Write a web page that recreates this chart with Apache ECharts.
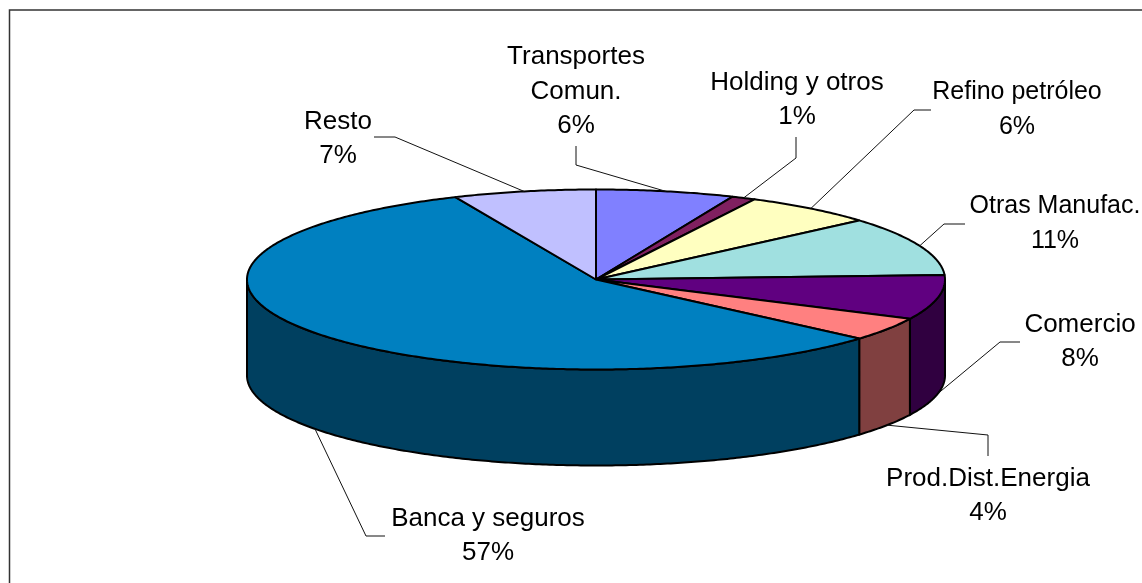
<!DOCTYPE html>
<html>
<head>
<meta charset="utf-8">
<style>
  html, body { margin: 0; padding: 0; background: #fff; overflow: hidden; }
  #pie { width: 1142px; height: 583px; }
</style>
<script src="https://cdn.jsdelivr.net/npm/echarts@6/dist/echarts.min.js"></script>
</head>
<body>
<div id="pie"></div>
<script>
// clockwise from 12 o'clock
var categories = ['Transportes\nComun.', 'Holding y otros', 'Refino petróleo', 'Otras Manufac.',
    'Comercio', 'Prod.Dist.Energia', 'Banca y seguros', 'Resto'];
var shares = [6.4, 1.1, 6.1, 10.6, 8.0, 4.2, 57.0, 6.6];
var topColors = ['#8080ff', '#802060', '#ffffc0', '#a0e0e0', '#600080', '#ff8080', '#0080c0', '#c0c0ff'];
var sideColors = ['#404080', '#401030', '#808060', '#507070', '#300040', '#804040', '#004060', '#606080'];

// label centre (x, y of the last line), font size and the leader's outer two points
var labelBoxes = [
    { x: 576, y: 126, size: 26, leader: [[576, 146], [576, 165]] },
    { x: 797, y: 117, size: 26, leader: [[796, 137], [796, 158]] },
    { x: 1017, y: 127, size: 25, leader: [[931, 110], [914, 110]] },
    { x: 1055, y: 241, size: 25, leader: [[965, 224], [944, 224]] },
    { x: 1080, y: 359, size: 26, leader: [[1020, 342], [1000, 342]] },
    { x: 988, y: 513, size: 26, leader: [[988, 456], [988, 435]] },
    { x: 488, y: 553, size: 26, leader: [[385, 536], [366, 536]] },
    { x: 338, y: 156, size: 26, leader: [[374, 137], [395, 137]] }
];

var cx = 596, cy = 279.5, rx = 349, ry = 90, depth = 96;
var lineH = 34.5;

var rows = [];
var sum = 0;
shares.forEach(function (v) {
    rows.push([sum, v]);
    sum += v;
});

function rim(t, drop) {
    return [cx + rx * Math.sin(t), cy - ry * Math.cos(t) + (drop || 0)];
}

function arc(a, b, drop) {
    var pts = [];
    var n = Math.max(2, Math.ceil((b - a) / 0.01));
    for (var i = 0; i <= n; i++) {
        pts.push(rim(a + (b - a) * i / n, drop));
    }
    return pts;
}

function renderSlice(params, api) {
    var i = params.dataIndex;
    var a = api.value(0) / 100 * Math.PI * 2;
    var b = (api.value(0) + api.value(1)) / 100 * Math.PI * 2;
    var mid = (a + b) / 2;
    var children = [];

    // only the front half of the rim shows a wall
    var wa = Math.max(a, Math.PI / 2), wb = Math.min(b, Math.PI * 1.5);
    if (wb > wa) {
        children.push({
            type: 'polygon', z2: 1,
            shape: { points: arc(wa, wb, 0).concat(arc(wa, wb, depth).reverse()) },
            style: { fill: sideColors[i], stroke: '#000', lineWidth: 2 }
        });
    }
    children.push({
        type: 'polygon', z2: 2,
        shape: { points: [[cx, cy]].concat(arc(a, b, 0)) },
        style: { fill: topColors[i], stroke: '#000', lineWidth: 2, lineJoin: 'round' }
    });

    // leader hits the wall bottom when the mid angle is on the front side
    var onFront = mid > Math.PI / 2 && mid < Math.PI * 1.5;
    var box = labelBoxes[i];
    children.push({
        type: 'polyline', z2: 3,
        shape: { points: box.leader.concat([rim(mid, onFront ? depth : 0)]) },
        style: { fill: null, stroke: '#111', lineWidth: 1 }
    });

    var total = categories[i].split('\n').length + 1;
    children.push({
        type: 'text', z2: 4,
        style: {
            x: box.x,
            y: box.y - (total - 1) * lineH / 2,
            text: categories[i] + '\n' + Math.round(api.value(1)) + '%',
            align: 'center',
            verticalAlign: 'middle',
            fill: '#000',
            font: box.size + 'px "Liberation Sans", Arial, sans-serif',
            lineHeight: lineH
        }
    });
    return { type: 'group', children: children };
}

var myChart = echarts.init(document.getElementById('pie'));

var option = {
    animation: false,
    backgroundColor: '#fff',
    graphic: [{
        type: 'rect',
        shape: { x: 9.5, y: 10, width: 1300, height: 700 },
        style: { fill: null, stroke: '#333', lineWidth: 1.5 }
    }],
    series: [{
        type: 'custom',
        coordinateSystem: 'none',
        silent: true,
        renderItem: renderSlice,
        data: rows
    }]
};

myChart.setOption(option);
</script>
</body>
</html>
